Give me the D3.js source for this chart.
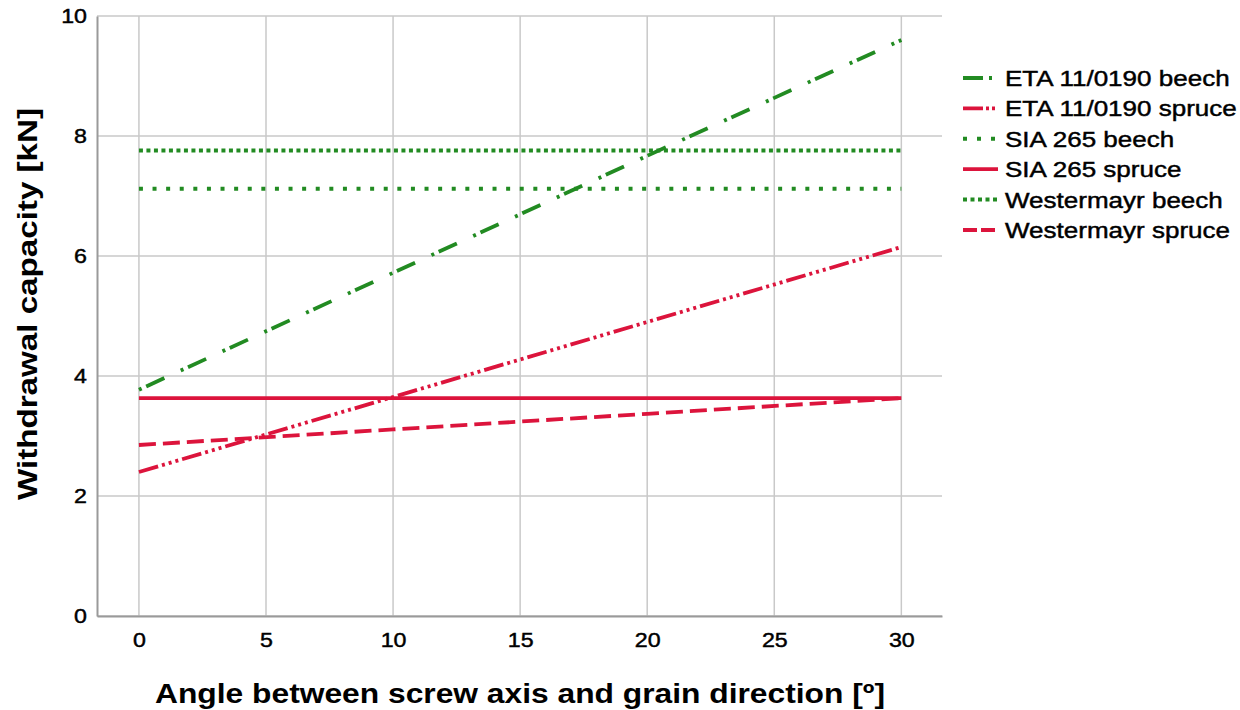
<!DOCTYPE html>
<html>
<head>
<meta charset="utf-8">
<script src="https://cdn.jsdelivr.net/npm/d3@7"></script>
<style>
  html, body { margin: 0; padding: 0; background: #fff; }
  svg { display: block; font-family: "Liberation Sans", Arial, sans-serif; }
</style>
</head>
<body>
<svg id="chart" width="1240" height="710"></svg>
<script>
// Withdrawal capacity vs. angle between screw axis and grain direction
const angles = [0, 10, 20, 30];
const seriesNames = [
  "ETA 11/0190 beech",
  "ETA 11/0190 spruce",
  "SIA 265 beech",
  "SIA 265 spruce",
  "Westermayr beech",
  "Westermayr spruce"
];
const etaBeech = [3.77, 5.72, 7.67, 9.6];
const etaSpruce = [2.4, 3.65, 4.9, 6.15];
const siaBeech = [7.12, 7.12, 7.12, 7.12];
const siaSpruce = [3.63, 3.63, 3.63, 3.63];
const westBeech = [7.76, 7.76, 7.76, 7.76];
const westSpruce = [2.85, 3.11, 3.37, 3.63];
const xTicks = [0, 5, 10, 15, 20, 25, 30];
const yTicks = [0, 2, 4, 6, 8, 10];

const green = "#228B22";
const red = "#DC143C";
const ink = "#000";
const stretch = 1.16; // wide-set glyphs

const styles = [
  { color: green, dash: "3,5,20,18", legendDash: "20,6,3,20", width: 3.8 },
  { color: red, dash: "20,4,3,4,3,4,3,4", legendDash: "20,3,3,3,3,3,3,3", width: 3.8 },
  { color: green, dash: "4,9.6", legendDash: "4,10", width: 4 },
  { color: red, dash: null, legendDash: null, width: 3.8 },
  { color: green, dash: "4,3.5", legendDash: "4,3.5", width: 4 },
  { color: red, dash: "17,7", legendDash: "14,4", width: 3.8 }
];
const allValues = [etaBeech, etaSpruce, siaBeech, siaSpruce, westBeech, westSpruce];
const series = seriesNames.map((name, i) => ({
  name,
  style: styles[i],
  points: angles.map((a, j) => ({ x: a, y: allValues[i][j] }))
}));

const svg = d3.select("#chart");
const plotLeft = 97, plotRight = 942, plotTop = 16, plotBottom = 616;

const x = d3.scaleLinear().domain([-1.65, 31.6]).range([plotLeft, plotRight]);
const y = d3.scaleLinear().domain([0, 10]).range([plotBottom, plotTop]);

// Grid lines
const grid = svg.append("g");
grid.selectAll("line.v").data(xTicks).join("line").attr("class", "v")
  .attr("x1", d => x(d)).attr("x2", d => x(d))
  .attr("y1", plotTop).attr("y2", plotBottom)
  .attr("stroke", "#c9c9c9").attr("stroke-width", 1.5);
grid.selectAll("line.h").data(yTicks).join("line").attr("class", "h")
  .attr("x1", plotLeft).attr("x2", plotRight)
  .attr("y1", d => y(d)).attr("y2", d => y(d))
  .attr("stroke", "#c9c9c9").attr("stroke-width", 1.5);

// Axes
const xAxis = d3.axisBottom(x).tickValues(xTicks).tickSize(0).tickPadding(17);
const yAxis = d3.axisLeft(y).tickValues(yTicks).tickSize(0).tickPadding(10);

const gx = svg.append("g").attr("transform", `translate(0,${plotBottom})`).call(xAxis);
const gy = svg.append("g").attr("transform", `translate(${plotLeft},0)`).call(yAxis);
[gx, gy].forEach(g => {
  g.select(".domain").attr("stroke", "#9a9a9a").attr("stroke-width", 2);
  g.selectAll("text")
    .attr("font-size", 20).attr("fill", ink)
    .attr("stroke", ink).attr("stroke-width", 0.45)
    .attr("font-family", "'Liberation Sans', Arial, sans-serif");
});
gx.selectAll("text").attr("transform", `scale(${stretch},1)`);
gy.selectAll("text").attr("x", -10 / stretch).attr("transform", `scale(${stretch},1)`);

// Series lines
const line = d3.line().x(d => x(d.x)).y(d => y(d.y));
svg.append("g").selectAll("path").data(series).join("path")
  .attr("d", d => line(d.points))
  .attr("fill", "none")
  .attr("stroke", d => d.style.color)
  .attr("stroke-width", d => d.style.width)
  .attr("stroke-dasharray", d => d.style.dash);

// Axis titles
svg.append("text")
  .attr("x", 520).attr("y", 703)
  .attr("text-anchor", "middle")
  .attr("font-size", 28).attr("font-weight", "bold").attr("fill", ink)
  .attr("textLength", 730).attr("lengthAdjust", "spacingAndGlyphs")
  .text("Angle between screw axis and grain direction [º]");
svg.append("text")
  .attr("transform", "translate(37,304) rotate(-90)")
  .attr("text-anchor", "middle")
  .attr("font-size", 28).attr("font-weight", "bold").attr("fill", ink)
  .attr("textLength", 392).attr("lengthAdjust", "spacingAndGlyphs")
  .text("Withdrawal capacity [kN]");

// Legend
const legend = svg.append("g").attr("transform", "translate(963,78)");
const rows = legend.selectAll("g").data(series).join("g")
  .attr("transform", (d, i) => `translate(0,${i * 30.4})`);
rows.append("line")
  .attr("x1", 0).attr("x2", 35).attr("y1", 0).attr("y2", 0)
  .attr("stroke", d => d.style.color)
  .attr("stroke-width", d => d.style.width)
  .attr("stroke-dasharray", d => d.style.legendDash);
rows.append("text")
  .attr("transform", `translate(42,0) scale(${stretch * 1.02},1)`)
  .attr("dy", "0.36em")
  .attr("font-size", 22).attr("fill", ink)
  .attr("stroke", ink).attr("stroke-width", 0.45)
  .text(d => d.name);
</script>
</body>
</html>
